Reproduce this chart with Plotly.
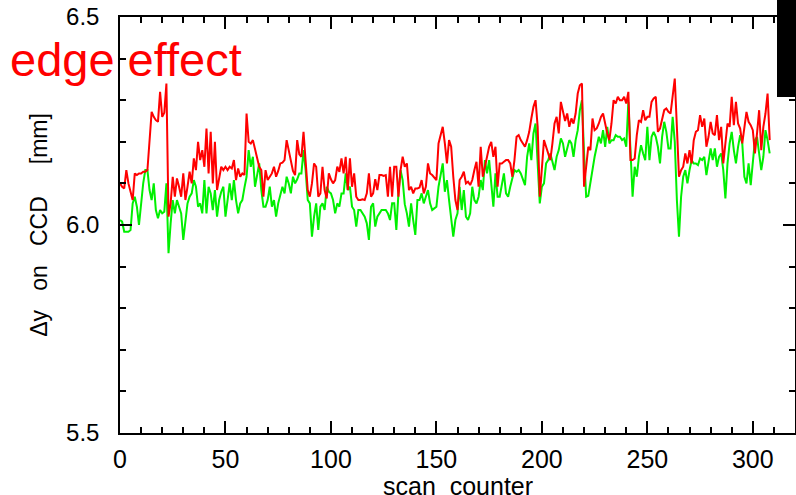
import plotly.graph_objects as go

# Δy measured on the CCD per scan (mm), two detector halves
dy_red = [
    6.100, 6.092, 6.088, 6.132, 6.100, 6.076, 6.060, 6.124, 6.120, 6.124,
    6.124, 6.128, 6.128, 6.132, 6.196, 6.272, 6.260, 6.252, 6.248, 6.320,
    6.260, 6.270, 6.340, 6.020, 6.052, 6.116, 6.068, 6.112, 6.092, 6.068,
    6.124, 6.060, 6.092, 6.128, 6.100, 6.160, 6.132, 6.200, 6.156, 6.180,
    6.140, 6.232, 6.124, 6.224, 6.100, 6.200, 6.084, 6.116, 6.140, 6.132,
    6.140, 6.132, 6.140, 6.136, 6.156, 6.108, 6.136, 6.116, 6.124, 6.120,
    6.268, 6.200, 6.196, 6.204, 6.180, 6.156, 6.140, 6.132, 6.068, 6.132,
    6.108, 6.116, 6.124, 6.140, 6.116, 6.130, 6.148, 6.150, 6.156, 6.204,
    6.180, 6.156, 6.130, 6.120, 6.204, 6.170, 6.164, 6.224, 6.156, 6.084,
    6.068, 6.100, 6.148, 6.140, 6.068, 6.076, 6.140, 6.084, 6.064, 6.124,
    6.110, 6.100, 6.108, 6.140, 6.128, 6.160, 6.124, 6.164, 6.084, 6.160,
    6.092, 6.124, 6.068, 6.060, 6.060, 6.062, 6.060, 6.076, 6.124, 6.068,
    6.076, 6.110, 6.084, 6.120, 6.120, 6.118, 6.120, 6.068, 6.140, 6.068,
    6.140, 6.140, 6.068, 6.132, 6.164, 6.140, 6.148, 6.084, 6.092, 6.076,
    6.088, 6.088, 6.090, 6.108, 6.076, 6.092, 6.148, 6.124, 6.120, 6.115,
    6.108, 6.196, 6.220, 6.236, 6.196, 6.148, 6.204, 6.188, 6.116, 6.060,
    6.036, 6.108, 6.116, 6.128, 6.100, 6.104, 6.096, 6.108, 6.132, 6.152,
    6.092, 6.188, 6.116, 6.140, 6.172, 6.188, 6.200, 6.164, 6.188, 6.092,
    6.148, 6.148, 6.152, 6.156, 6.156, 6.148, 6.116, 6.156, 6.212, 6.216,
    6.204, 6.196, 6.188, 6.204, 6.224, 6.256, 6.284, 6.300, 6.236, 6.068,
    6.140, 6.204, 6.188, 6.172, 6.156, 6.196, 6.244, 6.260, 6.220, 6.296,
    6.276, 6.250, 6.268, 6.236, 6.256, 6.244, 6.268, 6.316, 6.336, 6.340,
    6.092, 6.140, 6.188, 6.180, 6.256, 6.228, 6.232, 6.244, 6.260, 6.268,
    6.240, 6.220, 6.204, 6.244, 6.300, 6.292, 6.308, 6.300, 6.300, 6.308,
    6.292, 6.320, 6.156, 6.156, 6.160, 6.216, 6.252, 6.248, 6.276, 6.252,
    6.260, 6.260, 6.296, 6.304, 6.308, 6.224, 6.232, 6.252, 6.276, 6.280,
    6.272, 6.268, 6.316, 6.352, 6.236, 6.116, 6.132, 6.140, 6.172, 6.148,
    6.180, 6.148, 6.204, 6.224, 6.228, 6.264, 6.236, 6.256, 6.188, 6.212,
    6.248, 6.220, 6.216, 6.264, 6.204, 6.236, 6.148, 6.196, 6.244, 6.236,
    6.308, 6.240, 6.296, 6.244, 6.232, 6.196, 6.240, 6.272, 6.248, 6.240,
    6.228, 6.172, 6.220, 6.276, 6.180, 6.236, 6.268, 6.316, 6.204,
]

dy_green = [
    6.012, 6.008, 5.984, 5.984, 5.984, 5.988, 6.052, 6.068, 6.044, 6.000,
    6.060, 6.100, 6.132, 6.132, 6.084, 6.060, 6.100, 6.036, 6.016, 6.036,
    6.028, 6.032, 6.100, 5.932, 6.004, 6.060, 6.028, 6.060, 6.044, 6.028,
    5.964, 6.012, 6.052, 6.068, 6.076, 6.108, 6.092, 6.044, 6.052, 6.028,
    6.108, 6.028, 6.092, 6.076, 6.036, 6.084, 6.020, 6.060, 6.080, 6.092,
    6.020, 6.060, 6.100, 6.060, 6.108, 6.060, 6.028, 6.052, 6.060, 6.090,
    6.116, 6.180, 6.140, 6.164, 6.092, 6.120, 6.148, 6.084, 6.044, 6.044,
    6.060, 6.092, 6.044, 6.060, 6.020, 6.052, 6.070, 6.092, 6.076, 6.116,
    6.100, 6.076, 6.116, 6.100, 6.110, 6.124, 6.124, 6.180, 6.132, 6.060,
    6.052, 5.972, 6.020, 6.052, 5.988, 6.044, 6.052, 6.036, 6.092, 6.080,
    6.076, 6.060, 6.028, 6.052, 6.044, 6.076, 6.076, 6.124, 6.084, 6.092,
    6.044, 6.036, 5.996, 6.036, 6.036, 6.028, 6.020, 6.004, 5.964, 6.044,
    6.052, 5.996, 6.020, 6.028, 6.036, 6.036, 6.036, 6.028, 6.012, 6.052,
    6.052, 5.988, 6.076, 6.132, 6.108, 6.050, 6.028, 5.996, 6.052, 6.012,
    5.976, 6.060, 6.060, 6.076, 6.052, 6.068, 6.084, 6.052, 6.036, 6.040,
    6.044, 6.092, 6.116, 6.148, 6.080, 6.108, 6.060, 6.020, 5.972, 6.012,
    6.028, 6.092, 6.036, 6.084, 6.020, 6.012, 6.028, 6.092, 6.060, 6.052,
    6.068, 6.108, 6.084, 6.156, 6.124, 6.156, 6.092, 6.044, 6.124, 6.068,
    6.068, 6.100, 6.124, 6.076, 6.068, 6.092, 6.116, 6.132, 6.128, 6.132,
    6.124, 6.110, 6.096, 6.164, 6.196, 6.156, 6.220, 6.244, 6.132, 6.052,
    6.092, 6.100, 6.148, 6.156, 6.172, 6.148, 6.132, 6.164, 6.180, 6.208,
    6.196, 6.164, 6.188, 6.204, 6.196, 6.164, 6.204, 6.228, 6.276, 6.300,
    6.172, 6.068, 6.070, 6.100, 6.140, 6.164, 6.188, 6.212, 6.196, 6.228,
    6.188, 6.236, 6.196, 6.204, 6.204, 6.216, 6.212, 6.212, 6.204, 6.208,
    6.188, 6.296, 6.180, 6.068, 6.140, 6.116, 6.164, 6.192, 6.172, 6.156,
    6.236, 6.156, 6.212, 6.224, 6.212, 6.188, 6.148, 6.212, 6.248, 6.224,
    6.184, 6.184, 6.260, 6.200, 6.060, 5.972, 6.068, 6.116, 6.132, 6.100,
    6.132, 6.156, 6.148, 6.148, 6.144, 6.160, 6.156, 6.164, 6.120, 6.148,
    6.184, 6.156, 6.184, 6.140, 6.164, 6.172, 6.132, 6.064, 6.148, 6.196,
    6.224, 6.180, 6.148, 6.188, 6.216, 6.196, 6.116, 6.100, 6.148, 6.096,
    6.156, 6.204, 6.212, 6.172, 6.132, 6.164, 6.228, 6.204, 6.172,
]

scan = list(range(len(dy_red)))

x_ticks = [0, 50, 100, 150, 200, 250, 300]
y_ticks = [5.5, 6.0, 6.5]
y_tick_text = ["5.5", "6.0", "6.5"]

W, H = 796, 495
ML, MR, MT, MB = 120, 1, 17, 62
PW, PH = W - ML - MR, H - MT - MB
FONT = "Liberation Sans, Arial, sans-serif"


def px_to_paper_x(px):
    return (px - ML) / PW


def px_to_paper_y(py):
    return 1 - (py - MT) / PH


fig = go.Figure()
fig.add_trace(go.Scatter(x=scan, y=dy_green, mode="lines",
                         line=dict(color="#00f000", width=2),
                         showlegend=False, hoverinfo="skip"))
fig.add_trace(go.Scatter(x=scan, y=dy_red, mode="lines",
                         line=dict(color="#ff0000", width=2),
                         showlegend=False, hoverinfo="skip"))

axis_common = dict(
    showgrid=False, zeroline=False,
    showline=True, linecolor="black", linewidth=1.5,
    mirror="allticks", ticks="inside", tickcolor="black", tickwidth=1.5,
)

fig.update_xaxes(
    **axis_common,
    range=[0, 320], tickvals=x_ticks, ticklen=12,
    minor=dict(dtick=10, tick0=0, ticks="inside", ticklen=6,
               tickcolor="black", tickwidth=1.5),
    tickfont=dict(family=FONT, size=25, color="black"),
    ticklabelstandoff=3,
)

fig.update_yaxes(
    **axis_common,
    range=[5.5, 6.5], tickvals=y_ticks, ticktext=y_tick_text, ticklen=12,
    minor=dict(dtick=0.1, tick0=5.5, ticks="inside", ticklen=6,
               tickcolor="black", tickwidth=1.5),
    tickfont=dict(family=FONT, size=24, color="black"),
    ticklabelstandoff=14,
    title=dict(text="\u0394y\u00a0\u00a0\u00a0on\u00a0\u00a0\u00a0CCD\u00a0\u00a0\u00a0\u00a0\u00a0[mm]",
               font=dict(family=FONT, size=23, color="black"),
               standoff=12),
)

# x-axis title, set just below the tick labels
fig.add_annotation(
    text="scan\u00a0\u00a0counter", xref="paper", yref="paper",
    x=0.5, y=px_to_paper_y(470), xanchor="center", yanchor="top",
    showarrow=False, font=dict(family=FONT, size=25, color="black"),
)

# label in the upper-left corner
fig.add_annotation(
    text="edge effect", xref="paper", yref="paper",
    x=px_to_paper_x(8), y=px_to_paper_y(60),
    xanchor="left", yanchor="middle", showarrow=False,
    font=dict(family=FONT, size=47, color="#ff0000"),
)

# black block in the top-right corner
fig.add_shape(
    type="rect", xref="paper", yref="paper",
    x0=px_to_paper_x(777), x1=1.05,
    y0=px_to_paper_y(97), y1=1.2,
    fillcolor="black", line=dict(width=0), layer="above",
)

fig.update_layout(
    width=W, height=H,
    margin=dict(l=ML, r=MR, t=MT, b=MB, autoexpand=False),
    paper_bgcolor="white", plot_bgcolor="white",
)

fig.write_html("out.html")
